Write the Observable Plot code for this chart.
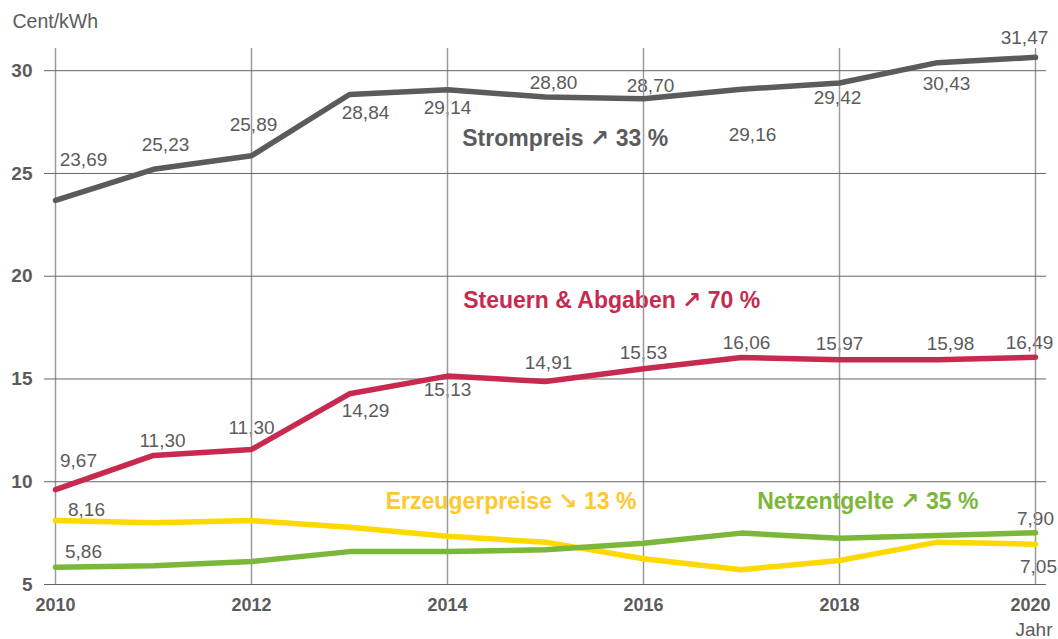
<!DOCTYPE html>
<html>
<head>
<meta charset="utf-8">
<script src="https://cdn.jsdelivr.net/npm/d3@7"></script>
<script src="https://cdn.jsdelivr.net/npm/@observablehq/plot@0.6"></script>
<style>
  html, body { margin: 0; padding: 0; background: #fff; }
  #chart svg { display: block; }
</style>
</head>
<body>
<div id="chart"></div>
<script>
// ---- data ----
const years = [2010, 2011, 2012, 2013, 2014, 2015, 2016, 2017, 2018, 2019, 2020];
const strompreis = [23.69, 25.2, 25.86, 28.84, 29.07, 28.72, 28.64, 29.1, 29.4, 30.39, 30.65];
const steuern    = [9.62, 11.28, 11.57, 14.28, 15.14, 14.88, 15.5, 16.04, 15.93, 15.94, 16.06];
const erzeuger   = [8.11, 8.0, 8.11, 7.79, 7.35, 7.06, 6.25, 5.72, 6.17, 7.06, 6.96];
const netz       = [5.84, 5.91, 6.12, 6.6, 6.6, 6.69, 7.01, 7.5, 7.25, 7.38, 7.52];

const strompreisLabels = ["23,69","25,23","25,89","28,84","29,14","28,80","28,70","29,16","29,42","30,43","31,47"];
const steuernLabels    = ["9,67","11,30","11,30","14,29","15,13","14,91","15,53","16,06","15,97","15,98","16,49"];
const erzeugerLabels   = ["8,16", null, null, null, null, null, null, null, null, null, "7,05"];
const netzLabels       = ["5,86", null, null, null, null, null, null, null, null, null, "7,90"];

const seriesNames = ["Strompreis", "Steuern & Abgaben", "Erzeugerpreise", "Netzentgelte"];
const seriesTitles = ["Strompreis \u2197 33 %", "Steuern & Abgaben \u2197 70 %", "Erzeugerpreise \u2198 13 %", "Netzentgelte \u2197 35 %"];
// title anchor in data units (year, Cent/kWh)
const titleYear  = [2014.15, 2014.16, 2013.37, 2017.16];
const titleValue = [26.70, 18.82, 9.04, 9.04];

const xTicks = [2010, 2012, 2014, 2016, 2018, 2020];
const yTicks = [5, 10, 15, 20, 25, 30];

// ---- layout / style ----
const colors = ["#5b5b5b", "#c8294f", "#ffd800", "#7bb83a"];
const titleColors = ["#5b5b5b", "#c8294f", "#fdc830", "#7bb83a"];
const labelOffsets = [
  { dx: [28, 12, 2, 16, 0, 8, 7, 11, -2, 9, -11], dy: [-40, -24, -31, 18, 18, -14, -13, 46, 15, 21, -19] },
  { dx: [23, 9, 0, 16, 0, 3, 0, 5, 0, 13, -6],    dy: [-29, -15, -22, 17, 14, -19, -16, -15, -16, -16, -14] },
  { dx: [31, 0, 0, 0, 0, 0, 0, 0, 0, 0, 3],        dy: [-11, 0, 0, 0, 0, 0, 0, 0, 0, 0, 23] },
  { dx: [28, 0, 0, 0, 0, 0, 0, 0, 0, 0, 0],        dy: [-15, 0, 0, 0, 0, 0, 0, 0, 0, 0, -14] }
];
const xTickDx = [0, 0, 0, 0, 0, -5];

const values = [strompreis, steuern, erzeuger, netz];
const labels = [strompreisLabels, steuernLabels, erzeugerLabels, netzLabels];

const tables = values.map((vals, s) => years.map((year, i) => ({
  series: seriesNames[s], year, value: vals[i], label: labels[s][i],
  dx: labelOffsets[s].dx[i], dy: labelOffsets[s].dy[i]
})));

const labelMarks = tables.flatMap(t => t.filter(d => d.label).map(d =>
  Plot.text([d], {
    x: "year", y: "value", text: "label", dx: d.dx, dy: d.dy,
    textAnchor: "middle", lineAnchor: "middle", fontSize: 19, fill: "#5b5b5b"
  })
));

const titleMarks = seriesTitles.map((t, s) =>
  Plot.text([{ x: titleYear[s], y: titleValue[s], t }], {
    x: "x", y: "y", text: "t", textAnchor: "start", lineAnchor: "middle",
    fontSize: 23, fontWeight: "bold", fill: titleColors[s],
    fontFamily: "'Liberation Sans', 'DejaVu Sans', sans-serif"
  })
);

const lineMarks = tables.map((t, s) =>
  Plot.line(t, { x: "year", y: "value", stroke: colors[s], strokeWidth: 5.5, strokeLinejoin: "round" })
);

const xTickMarks = xTicks.map((t, i) =>
  Plot.text([t], {
    x: d => d, frameAnchor: "bottom", dy: 21, dx: xTickDx[i], text: d => String(d),
    textAnchor: "middle", lineAnchor: "middle", fontSize: 18, fontWeight: "bold", fill: "#5b5b5b"
  })
);

const chart = Plot.plot({
  width: 1058,
  height: 639,
  marginLeft: 55,
  marginRight: 23,
  marginTop: 48,
  marginBottom: 55,
  style: { fontFamily: "'Liberation Sans', Arial, sans-serif", fontSize: "19px", color: "#5b5b5b", background: "#fff" },
  x: { domain: [2010, 2020], axis: null },
  y: { domain: [5, 31.08] },
  marks: [
    ...titleMarks,
    ...labelMarks,
    Plot.ruleX(xTicks, { stroke: "#9a9a9a", strokeWidth: 1.5 }),
    Plot.ruleY(yTicks, { stroke: "#666", strokeWidth: 1, insetLeft: -11, insetRight: -11 }),
    ...lineMarks,
    Plot.axisY({ ticks: yTicks, tickSize: 0, tickPadding: 23, fontSize: 19, fontWeight: "bold", fill: "#5b5b5b", label: null }),
    ...xTickMarks,
    Plot.text(["Cent/kWh"], { frameAnchor: "top-left", dx: -43, dy: -27, textAnchor: "start", lineAnchor: "middle", fontSize: 19.5, fill: "#5b5b5b" }),
    Plot.text(["Jahr"], { frameAnchor: "bottom-right", dx: 17, dy: 45, textAnchor: "end", lineAnchor: "middle", fontSize: 19, fill: "#5b5b5b" })
  ]
});
document.getElementById("chart").appendChild(chart);
</script>
</body>
</html>
